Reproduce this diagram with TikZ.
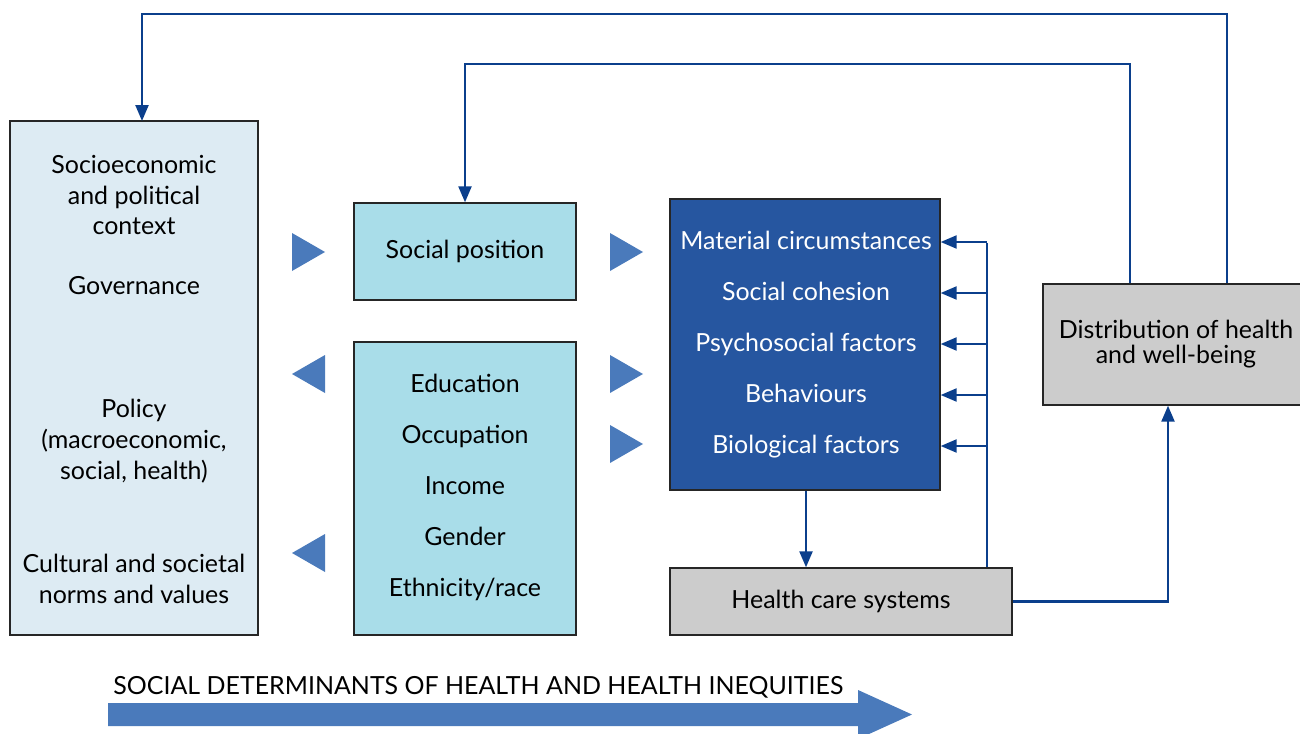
\documentclass[tikz,border=0pt]{standalone}
\usepackage{fontspec}
\setmainfont{Lato}
\usetikzlibrary{arrows.meta,positioning}

\definecolor{ctxblue}{HTML}{DDEBF3}
\definecolor{posblue}{HTML}{A9DDE9}
\definecolor{darkblue}{HTML}{2656A0}
\definecolor{boxgray}{HTML}{CCCCCC}
\definecolor{linkblue}{HTML}{0B3F8C}
\definecolor{triblue}{HTML}{4A7ABB}

\begin{document}
\begin{tikzpicture}[x=0.02cm, y=-0.02cm,
	box/.style = {draw=black!85, line width=0.8pt, inner sep=0pt},
	txtm/.style = {font=\fontsize{14.2}{17.6}\selectfont, align=center, inner sep=0pt},
	txt/.style = {txtm, text height=1.85ex, text depth=0.2ex},
	link/.style = {draw=linkblue, line width=1.3pt},
	arr/.style = {link, -{Triangle[length=0.32cm,width=0.26cm]}},
	tri/.style = {fill=triblue}] 
	\useasboundingbox (0,0) rectangle (1300,733);
	
	% boxes
	\node[box, fill=ctxblue, minimum width=4.96cm, minimum height=10.28cm] (ctx) at (134,378) {};
	\node[box, fill=posblue, minimum width=4.44cm, minimum height=1.94cm, txt] (pos) at (465,251.5) {Social position};
	\node[box, fill=posblue, minimum width=4.44cm, minimum height=5.86cm] (strat) at (465,488.5) {};
	\node[box, fill=darkblue, minimum width=5.4cm, minimum height=5.82cm] (inter) at (805,344.5) {};
	\node[box, fill=boxgray, minimum width=6.84cm, minimum height=1.34cm, txt] (hcs) at (841,601.5) {Health care systems};
	\node[box, fill=boxgray, minimum width=5.32cm, minimum height=2.42cm] (dist) at (1176,344.5) {};
	\node[txtm, font=\fontsize{14.2}{14.7}\selectfont] (distTxt) at (1176,344) {Distribution of health\\and well-being};
	
	% context texts
	\node[txtm] (context) at (134,195) {Socioeconomic\\and political\\context};
	\node[txt] (gov) at (134,287) {Governance};
	\node[txtm] (policy) at (134,441) {Policy\\(macroeconomic,\\social, health)};
	\node[txtm] (norms) at (134,579) {Cultural and societal\\norms and values};
	
	% structural determinants
	\node[txt] (edu) at (465,385) {Education};
	\node[txt] (occ) at (465,436) {Occupation};
	\node[txt] (inc) at (465,487) {Income};
	\node[txt] (gen) at (465,538) {Gender};
	\node[txt] (eth) at (465,589) {Ethnicity/race};
	
	% intermediary determinants
	\node[txt, text=white] (mat) at (806,242) {Material circumstances};
	\node[txt, text=white] (coh) at (806,293) {Social cohesion};
	\node[txt, text=white] (psy) at (806,344) {Psychosocial factors};
	\node[txt, text=white] (beh) at (806,395) {Behaviours};
	\node[txt, text=white] (bio) at (806,446) {Biological factors};
	
	% triangles
	\fill[tri] (292,233) -- ++(33,19) -- ++(-33,19) -- cycle;
	\fill[tri] (610,233) -- ++(33,19) -- ++(-33,19) -- cycle;
	\fill[tri] (325,355) -- ++(-33,19) -- ++(33,19) -- cycle;
	\fill[tri] (610,355) -- ++(33,19) -- ++(-33,19) -- cycle;
	\fill[tri] (610,425) -- ++(33,19) -- ++(-33,19) -- cycle;
	\fill[tri] (325,534) -- ++(-33,19) -- ++(33,19) -- cycle;
	
	% feedback loops
	\coordinate (topA) at (1227,14);
	\coordinate (ctxIn) at (142,121);
	\coordinate (topB) at (1130,64);
	\coordinate (fb) at (987,243);
	\draw[arr] (dist.north -| topA) -- (topA) -| (ctxIn);
	\draw[arr] (dist.north -| topB) -- (topB) -| (pos.north);
	\draw[link] (hcs.north -| fb) -- (fb);
	\draw[arr] (fb |- mat) -- (inter.east |- mat);
	\draw[arr] (fb |- coh) -- (inter.east |- coh);
	\draw[arr] (fb |- psy) -- (inter.east |- psy);
	\draw[arr] (fb |- beh) -- (inter.east |- beh);
	\draw[arr] (fb |- bio) -- (inter.east |- bio);
	\draw[arr] (inter.south -| mat) -- (hcs.north -| mat);
	\draw[arr] (hcs.east) -| ([xshift=-0.16cm]dist.south);
	
	% bottom arrow
	\node[txt, anchor=west] (sdh) at (113,687) {SOCIAL DETERMINANTS OF HEALTH AND HEALTH INEQUITIES};
	\fill[tri] (108,703) -- (858,703) -- (858,690) -- (912,714.5) -- (858,739) -- (858,726) -- (108,726) -- cycle;
\end{tikzpicture}
\end{document}
